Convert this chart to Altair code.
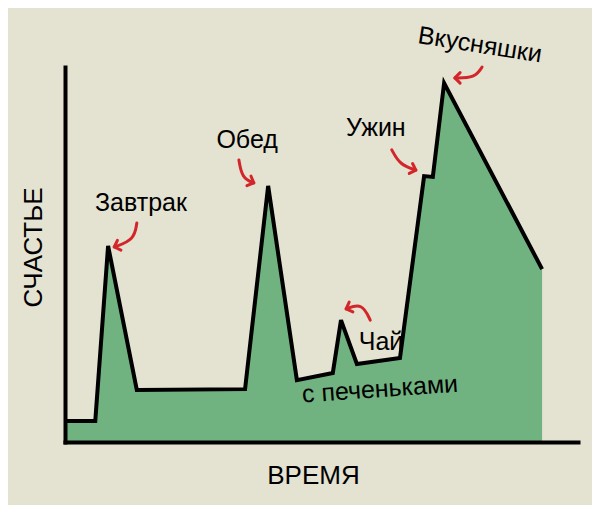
import math
import altair as alt
import pandas as pd

# --- main curve: time vs happiness ---
time = [0.0, 5.9, 8.4, 14.0, 35.1, 39.6, 45.2, 52.2, 53.8, 56.9, 65.3, 70.0, 71.7, 73.9, 93.0]
happiness = [5.6, 5.6, 52.3, 13.9, 14.1, 68.3, 16.5, 18.4, 32.5, 20.8, 22.4, 70.9, 70.7, 95.7, 46.1]

# --- annotations ---
label_text = ["Завтрак", "Обед", "Ужин", "Вкусняшки", "Чай", "с печеньками"]
label_time = [14.8, 35.5, 60.6, 80.9, 61.6, 61.4]
label_happy = [63.7, 80.5, 83.7, 105.9, 26.7, 14.1]
label_angle = [0, 0, 0, 9, 0, 356]

arrow_id = ["a1", "a1", "a1", "a2", "a2", "a2", "a3", "a3", "a3", "a4", "a4", "a4", "a5", "a5", "a5"]
arrow_step = [0, 1, 2] * 5
arrow_time = [14.0, 13.5, 9.6, 33.9, 34.5, 36.8, 63.7, 65.3, 68.4, 81.3, 79.9, 76.0, 59.5, 57.9, 54.8]
arrow_happy = [58.4, 53.9, 52.0, 75.2, 70.4, 69.1, 77.9, 73.9, 72.5, 100.0, 97.1, 97.1, 32.5, 37.1, 35.5]

W, H = 513, 375
BG = "#e4e2d1"
GREEN = "#70b280"
RED = "#d3262b"
FONT = "Liberation Sans Narrow, Liberation Sans, Noto Sans"

curve = pd.DataFrame({"t": time, "h": happiness})
labels = pd.DataFrame({"t": label_time, "h": label_happy, "txt": label_text, "a": label_angle})
arrows = pd.DataFrame({"id": arrow_id, "k": arrow_step, "t": arrow_time, "h": arrow_happy})

# arrowhead direction from the last two points of each arrow (screen space)
heads = []
for aid in dict.fromkeys(arrow_id):
    sub = arrows[arrows.id == aid].sort_values("k")
    p1, p2 = sub.iloc[-2], sub.iloc[-1]
    dx = (p2.t - p1.t) * W / 100.0
    dy = -(p2.h - p1.h) * H / 100.0
    ang = math.degrees(math.atan2(dy, dx)) % 360
    heads.append({"t": p2.t, "h": p2.h, "ang": ang})
heads = pd.DataFrame(heads)

xs = alt.Scale(domain=[0, 100], nice=False, zero=False)
ys = alt.Scale(domain=[0, 100], nice=False, zero=False)

xaxis = alt.Axis(title="ВРЕМЯ", ticks=False, labels=False, grid=False,
                 domainColor="black", domainWidth=4, domainCap="square", zindex=2,
                 titleFont=FONT, titleFontSize=26, titleFontWeight="normal", titleColor="black",
                 titleX=248, titleY=33, titleAlign="center", titleBaseline="middle")
yaxis = alt.Axis(title="СЧАСТЬЕ", ticks=False, labels=False, grid=False,
                 domainColor="black", domainWidth=4, domainCap="square", zindex=2,
                 titleFont=FONT, titleFontSize=26, titleFontWeight="normal", titleColor="black",
                 titleAngle=270, titleX=-32, titleY=180, titleAlign="center", titleBaseline="middle")

area = alt.Chart(curve).mark_area(color=GREEN, opacity=1).encode(
    x=alt.X("t:Q", scale=xs, axis=xaxis),
    y=alt.Y("h:Q", scale=ys, axis=yaxis),
)
line = alt.Chart(curve).mark_line(color="black", strokeWidth=4, strokeJoin="miter").encode(
    x=alt.X("t:Q", scale=xs), y=alt.Y("h:Q", scale=ys)
)
arrow_lines = alt.Chart(arrows).mark_line(
    color=RED, strokeWidth=3, interpolate="basis", strokeCap="round"
).encode(
    x=alt.X("t:Q", scale=xs), y=alt.Y("h:Q", scale=ys), detail="id:N", order="k:Q"
)
arrow_heads = alt.Chart(heads).mark_point(
    shape="M-1,-1L0,0L-1,1", filled=False, stroke=RED, strokeWidth=3, size=110,
    opacity=1, strokeCap="round", strokeJoin="round"
).encode(
    x=alt.X("t:Q", scale=xs), y=alt.Y("h:Q", scale=ys), angle=alt.Angle("ang:Q", scale=None)
)
texts = alt.Chart(labels).mark_text(
    font=FONT, fontSize=25, color="black", align="center", baseline="middle"
).encode(
    x=alt.X("t:Q", scale=xs), y=alt.Y("h:Q", scale=ys), text="txt:N",
    angle=alt.Angle("a:Q", scale=None)
)

chart = alt.layer(area, line, arrow_lines, arrow_heads, texts).properties(
    width=W, height=H,
    padding={"left": 57, "top": 59, "right": 14, "bottom": 63},
    autosize=alt.AutoSizeParams(type="none"),
).configure(background=BG).configure_view(stroke=None)

chart.save("out.html", embed_options={"renderer": "svg", "actions": False})
